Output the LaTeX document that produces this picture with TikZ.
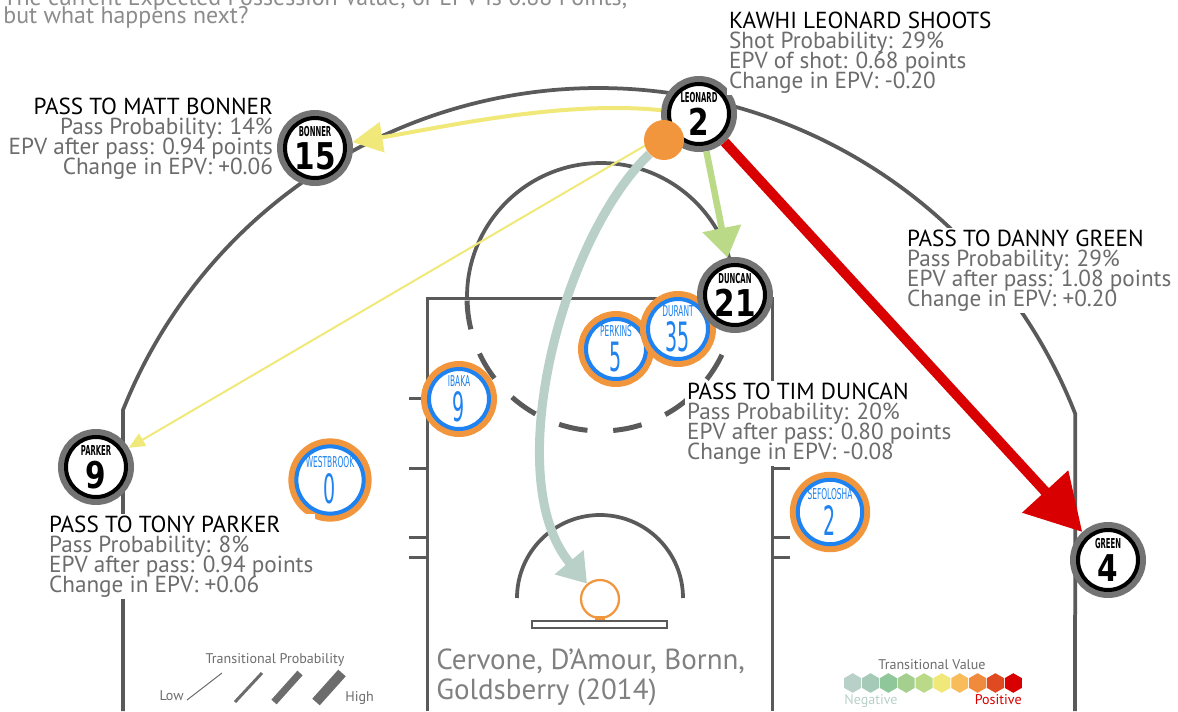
\documentclass[tikz,border=0pt]{standalone}
\usepackage{fontspec}
\usepackage{graphicx}
\usepackage{tikz}
\usepackage{xcolor}
\usetikzlibrary{arrows.meta}
\setmainfont{PT Sans}
\newfontfamily\jerseyfont{DejaVu Sans}

\definecolor{courtgray}{RGB}{90,90,90}
\definecolor{ringgray}{RGB}{115,115,115}
\definecolor{infogray}{RGB}{108,108,108}
\definecolor{topgray}{RGB}{140,140,140}
\definecolor{citegray}{RGB}{128,128,128}
\definecolor{okcorange}{RGB}{242,150,62}
\definecolor{okcblue}{RGB}{30,130,240}
\definecolor{tvA}{RGB}{184,208,200}
\definecolor{tvB}{RGB}{166,202,184}
\definecolor{tvC}{RGB}{143,199,154}
\definecolor{tvD}{RGB}{165,207,143}
\definecolor{tvE}{RGB}{186,218,136}
\definecolor{tvF}{RGB}{240,232,120}
\definecolor{tvG}{RGB}{248,188,90}
\definecolor{tvH}{RGB}{240,138,60}
\definecolor{tvI}{RGB}{224,74,32}
\definecolor{tvJ}{RGB}{216,0,0}

\newcommand{\tightlines}{\lineskiplimit=-100pt\relax}
\newcommand{\saplayer}[2]{\shortstack{\scalebox{0.5}[1]{\jerseyfont\bfseries\fontsize{7.8}{8}\selectfont #1}\\\scalebox{0.8}[1]{\jerseyfont\bfseries\fontsize{21}{21}\selectfont #2}}}
\newcommand{\okcplayer}[2]{\shortstack{\scalebox{0.5}[1]{\jerseyfont\fontsize{8.5}{9}\selectfont #1}\\\scalebox{0.47}[1]{\jerseyfont\fontsize{23}{23}\selectfont #2}}}

\begin{document}
\begin{tikzpicture}[x=0.02cm, y=-0.02cm,
  sa/.style = {circle, minimum size=1.2cm, inner sep=0pt, outer sep=0.16cm, fill=white, draw=black, line width=0.08cm, preaction={draw=ringgray, line width=0.32cm}},
  okc/.style = {circle, minimum size=1.2cm, inner sep=0pt, outer sep=0.16cm, fill=white, draw=okcblue, line width=0.08cm, preaction={draw=okcorange, line width=0.32cm}, text=okcblue},
  court/.style = {draw=courtgray, line width=0.075cm},
  info/.style = {anchor=north west, align=left, inner sep=1pt, fill=white, text=infogray, font=\fontsize{13.2}{11.3}\selectfont\tightlines},
  intro/.style = {anchor=base west, inner sep=0pt, text=topgray, font=\fontsize{13.6}{14}\selectfont},
  legend/.style = {inner sep=0pt, text=infogray, font=\fontsize{8}{9}\selectfont}]
\useasboundingbox (0,0) rectangle (1178,711);

% court
\draw[court] (123,711) -- (123,410) arc[start angle=201.8, end angle=338.7, radius=512] -- (1075,711);
\draw[court, line width=0.06cm] (427,711) -- (427,298) -- (772,298) -- (772,711);
\foreach \y in {398,468,537,557} {
  \draw[court, line width=0.06cm] (409,\y) -- (427,\y);
  \draw[court, line width=0.06cm] (772,\y) -- (790,\y);
}
\draw[court] (467,297) arc[start angle=180, end angle=360, radius=134];
\draw[court, line width=0.1cm, dash pattern=on 0.58cm off 0.516cm] (734.9,301.9) arc[start angle=2.1, end angle=180, radius=134];
\draw[court] (517,598) arc[start angle=180, end angle=360, radius=83];
\fill[okcorange] (595,616) rectangle (605,621);
\draw[courtgray, line width=0.03cm, fill=white] (532,621) rectangle (667,628);
\node[circle, draw=okcorange, line width=0.045cm, minimum size=0.76cm, inner sep=0pt] (basket) at (600,599) {};

% players
\node[okc] (westbrook) at (330,480) {\okcplayer{WESTBROOK}{0}};
\node[okc] (ibaka) at (459,399) {\okcplayer{IBAKA}{9}};
\node[okc] (perkins) at (616,349) {\okcplayer{PERKINS}{5}};
\node[okc] (durant) at (678,329) {\okcplayer{DURANT}{35}};
\node[okc] (sefolosha) at (830,512) {\okcplayer{SEFOLOSHA}{2}};
\node[sa] (bonner) at (315,148) {\saplayer{BONNER}{15}};
\node[sa] (parker) at (96,467) {\saplayer{PARKER}{9}};
\node[sa] (duncan) at (735,295) {\saplayer{DUNCAN}{21}};
\node[sa] (green) at (1108,560) {\saplayer{GREEN}{4}};
\node[sa] (leonard) at (699,114) {\saplayer{LEONARD}{2}};

% text
\node[intro] (introa) at (3,5) {The current Expected Possession Value, or EPV is 0.88 Points,};
\node[intro] (introb) at (3,23) {but what happens next?};
\node[info] (shotinfo) at (727,10) {\textcolor{black}{KAWHI LEONARD SHOOTS}\\Shot Probability: 29\%\\EPV of shot: 0.68 points\\Change in EPV: -0.20};
\node[info, anchor=north east, align=right] (bonnerinfo) at (275,96) {\textcolor{black}{PASS TO MATT BONNER}\\Pass Probability: 14\%\\EPV after pass: 0.94 points\\Change in EPV: +0.06};
\node[info] (greeninfo) at (905,228) {\textcolor{black}{PASS TO DANNY GREEN}\\Pass Probability: 29\%\\EPV after pass: 1.08 points\\Change in EPV: +0.20};
\node[info] (duncaninfo) at (685,381) {\textcolor{black}{PASS TO TIM DUNCAN}\\Pass Probability: 20\%\\EPV after pass: 0.80 points\\Change in EPV: -0.08};
\node[info] (parkerinfo) at (47,514) {\textcolor{black}{PASS TO TONY PARKER}\\Pass Probability: 8\%\\EPV after pass: 0.94 points\\Change in EPV: +0.06};
\node[anchor=south west, align=left, inner sep=0pt, text=citegray, font=\fontsize{16.5}{17}\selectfont\tightlines] (cite) at (436,706) {Cervone, D’Amour, Bornn,\\Goldsberry (2014)};

% passes
\draw[tvJ, line width=0.2cm, -{Triangle[length=1.1cm, width=1.2cm]}] (leonard) -- (green);
\draw[tvE, line width=0.13cm, -{Triangle[length=0.6cm, width=0.76cm]}] (leonard) -- (duncan);
\draw[tvF, line width=0.08cm, -{Triangle[length=0.6cm, width=0.6cm]}] (leonard) .. controls (560,100) and (440,128) .. (bonner);
\draw[tvF, line width=0.04cm, -{Triangle[length=0.32cm, width=0.28cm]}] (leonard) -- (parker);

% ball and shot
\node[circle, fill=okcorange, minimum size=0.8cm, inner sep=0pt] (ball) at (664,140) {};
\draw[tvA, line width=0.18cm, -{Triangle[length=0.56cm, width=0.72cm]}] (ball) .. controls (560,240) and (500,480) .. (basket);

% legends
\node[legend, anchor=base] (problabel) at (275,663) {Transitional Probability};
\node[legend, anchor=base east] (low) at (184,700) {Low};
\node[legend, anchor=base west] (high) at (345,701) {High};
\draw[infogray, line width=0.02cm] (187,700) -- (222,673);
\draw[infogray, line width=0.06cm] (235,702) -- (262,673);
\draw[infogray, line width=0.14cm] (274,702) -- (300,673);
\draw[infogray, line width=0.2cm] (316,702) -- (342,673);
\node[legend, anchor=base] (valuelabel) at (932,669) {Transitional Value};
\foreach \c [count=\i from 0] in {tvA,tvB,tvC,tvD,tvE,tvF,tvG,tvH,tvI,tvJ}
  \fill[\c, shift={(852.7+17.84*\i,683)}] (30:9.8) -- (90:9.8) -- (150:9.8) -- (210:9.8) -- (270:9.8) -- (330:9.8) -- cycle;
\node[legend, anchor=base west, text=tvA] (negative) at (844,704) {Negative};
\node[legend, anchor=base east, text=tvJ] (positive) at (1022,704) {Positive};
\end{tikzpicture}
\end{document}
